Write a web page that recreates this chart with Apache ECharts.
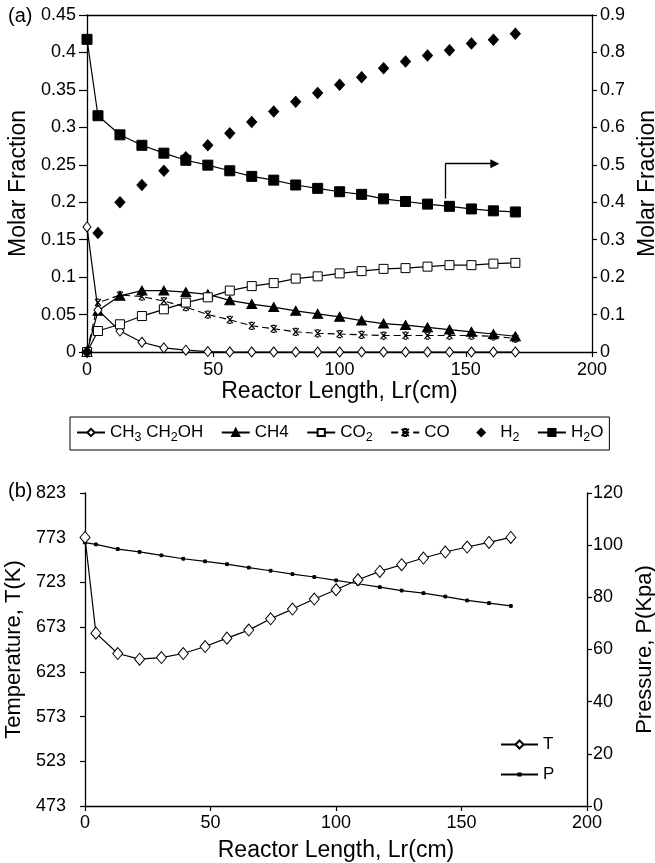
<!DOCTYPE html>
<html>
<head>
<meta charset="utf-8">
<script src="https://cdn.jsdelivr.net/npm/echarts@6/dist/echarts.min.js"></script>
<style>html,body{margin:0;padding:0;background:#fff}#c{width:655px;height:863px}</style>
</head>
<body>
<div id="c"></div>
<script>
// ---------- data ----------
var xPos = [0, 4.35, 13.05, 21.75, 30.45, 39.15, 47.85, 56.55, 65.25, 73.95, 82.65, 91.35, 100.05, 108.75, 117.45, 126.15, 134.85, 143.55, 152.25, 160.95, 169.65];
var ethanol = [0.167, 0.056, 0.028, 0.013, 0.0055, 0.0024, 0.0006, 0, 0, 0, 0, 0, 0, 0, 0, 0, 0, 0, 0, 0, 0];
var ch4 = [0, 0.055, 0.075, 0.082, 0.082, 0.080, 0.077, 0.069, 0.064, 0.060, 0.055, 0.051, 0.047, 0.042, 0.038, 0.036, 0.033, 0.030, 0.027, 0.024, 0.021];
var co2 = [0, 0.028, 0.037, 0.048, 0.057, 0.066, 0.073, 0.082, 0.088, 0.092, 0.098, 0.101, 0.105, 0.108, 0.111, 0.112, 0.114, 0.116, 0.116, 0.118, 0.119];
var co = [0, 0.066, 0.076, 0.074, 0.068, 0.060, 0.050, 0.043, 0.035, 0.031, 0.027, 0.025, 0.024, 0.023, 0.022, 0.022, 0.022, 0.022, 0.022, 0.021, 0.018];
var h2 = [0, 0.159, 0.200, 0.223, 0.242, 0.260, 0.276, 0.292, 0.307, 0.321, 0.334, 0.346, 0.357, 0.367, 0.379, 0.388, 0.396, 0.403, 0.412, 0.417, 0.425];
var h2o = [0.835, 0.631, 0.580, 0.552, 0.531, 0.512, 0.499, 0.484, 0.469, 0.459, 0.446, 0.437, 0.428, 0.421, 0.409, 0.402, 0.395, 0.389, 0.382, 0.377, 0.374]; // right axis
var temperature = [773.3, 666.3, 643.5, 637.2, 639.0, 643.5, 651.3, 660.7, 669.7, 682.3, 693.2, 704.4, 714.8, 726.0, 735.3, 742.8, 750.3, 757.0, 762.6, 767.7, 773.3];
var pressure = [101.0, 100.3, 98.5, 97.4, 96.1, 94.8, 93.8, 92.7, 91.4, 90.2, 88.9, 87.8, 86.5, 85.2, 83.9, 82.6, 81.6, 80.3, 78.8, 77.8, 76.7];

var leftTickLabels = ['0', '0.05', '0.1', '0.15', '0.2', '0.25', '0.3', '0.35', '0.4', '0.45'];
var rightTickLabels = ['0', '0.1', '0.2', '0.3', '0.4', '0.5', '0.6', '0.7', '0.8', '0.9'];
var tempTicks = [473, 523, 573, 623, 673, 723, 773, 823];
var arrowPts = [[141.9, 0.205], [141.9, 0.2515], [161.5, 0.2515]];

// ---------- build ----------
function zip(xs, ys) { return xs.map(function (x, i) { return [x, ys[i]]; }); }
var FF = '"Liberation Sans", Arial, sans-serif';
var black = '#000';
var axLine = { show: true, onZero: false, lineStyle: { color: black, width: 1.3 } };
function tick(len) { return { show: true, length: len, lineStyle: { color: black, width: 1.2 } }; }
var lbl = { color: black, fontSize: 18, fontFamily: FF };
var nameStyle = { color: black, fontSize: 23, fontFamily: FF };
var nameStyleB = { color: black, fontSize: 22, fontFamily: FF };

var chart = echarts.init(document.getElementById('c'), null, { renderer: 'canvas' });

var openStyle = { color: '#fff', borderColor: black, borderWidth: 1, opacity: 1 };
var fillStyle = { color: black, borderColor: black, borderWidth: 1, opacity: 1 };
var lineSt = { color: black, width: 1.2 };
var coSymbol = 'path://M0,0L10,10M10,0L0,10M2.5,0L7.5,0M2.5,10L7.5,10';
var dotSymbol = 'path://M0,0M10,10M3.6,3.6H6.4V6.4H3.6Z';

var legendNames = {
  'CH3CH2OH': '{n|CH}{s|3}{n| CH}{s|2}{n|OH}',
  'CH4': '{n|CH4}',
  'CO2': '{n|CO}{s|2}',
  'CO': '{n|CO}',
  'H2': '{n|H}{s|2}',
  'H2O': '{n|H}{s|2}{n|O}',
  'T': '{n|T}',
  'P': '{n|P}'
};
var rich = {
  n: { fontSize: 17, fontFamily: FF, color: black },
  s: { fontSize: 12.5, fontFamily: FF, color: black, padding: [10, 0, 0, 0] }
};

var option = {
  animation: false,
  backgroundColor: '#fff',
  title: [
    { text: '(a)', left: 8, top: 6, padding: 0, textStyle: { fontSize: 20, fontWeight: 'normal', color: black, fontFamily: FF } },
    { text: '(b)', left: 8, top: 481, padding: 0, textStyle: { fontSize: 20, fontWeight: 'normal', color: black, fontFamily: FF } }
  ],
  grid: [
    { left: 87, right: 63, top: 15, bottom: 511, containLabel: false, outerBoundsMode: 'none' },
    { left: 85, right: 68, top: 493, bottom: 57, containLabel: false, outerBoundsMode: 'none' }
  ],
  legend: [
    {
      data: ['CH3CH2OH', 'CH4', 'CO2', 'CO', 'H2', 'H2O'],
      left: 70, top: 417, orient: 'horizontal',
      borderColor: black, borderWidth: 1, padding: [7, 6, 6, 6],
      itemWidth: 28, itemHeight: 9, itemGap: 17.5,
      formatter: function (n) { return legendNames[n]; },
      textStyle: { fontSize: 17, fontFamily: FF, color: black, rich: rich }
    },
    {
      data: ['T', 'P'],
      left: 495, top: 731, orient: 'vertical',
      itemWidth: 37, itemHeight: 10, itemGap: 13,
      formatter: function (n) { return legendNames[n]; },
      textStyle: { fontSize: 17, fontFamily: FF, color: black, rich: rich }
    }
  ],
  xAxis: [
    { gridIndex: 0, type: 'value', min: 0, max: 200, interval: 50, axisLine: axLine, axisTick: tick(5),
      axisLabel: Object.assign({ margin: 9 }, lbl), splitLine: { show: false },
      name: 'Reactor Length, Lr(cm)', nameLocation: 'middle', nameGap: 28, nameTextStyle: nameStyle },
    { gridIndex: 0, type: 'value', min: 0, max: 200, position: 'top', axisLine: axLine,
      axisTick: { show: false }, axisLabel: { show: false }, splitLine: { show: false } },
    { gridIndex: 1, type: 'value', min: 0, max: 200, interval: 50, axisLine: axLine, axisTick: tick(5),
      axisLabel: Object.assign({ margin: 8 }, lbl), splitLine: { show: false },
      name: 'Reactor Length, Lr(cm)', nameLocation: 'middle', nameGap: 33, nameTextStyle: nameStyle }
  ],
  yAxis: [
    { gridIndex: 0, type: 'value', min: 0, max: 0.45, interval: 0.05, position: 'left', axisLine: axLine, axisTick: tick(8),
      axisLabel: Object.assign({ margin: 11, formatter: function (v, i) { return leftTickLabels[i]; } }, lbl),
      splitLine: { show: false }, name: 'Molar Fraction', nameLocation: 'middle', nameGap: 54, nameTextStyle: nameStyle },
    { gridIndex: 0, type: 'value', min: 0, max: 0.9, interval: 0.1, position: 'right', axisLine: axLine, axisTick: tick(5),
      axisLabel: Object.assign({ margin: 8, formatter: function (v, i) { return rightTickLabels[i]; } }, lbl),
      splitLine: { show: false }, name: 'Molar Fraction', nameLocation: 'middle', nameGap: 32, nameTextStyle: nameStyle },
    { gridIndex: 1, type: 'value', min: tempTicks[0], max: tempTicks[tempTicks.length - 1], position: 'left', axisLine: axLine,
      axisTick: Object.assign({ customValues: tempTicks }, tick(5)),
      axisLabel: Object.assign({ margin: 19, customValues: tempTicks }, lbl),
      splitLine: { show: false }, name: 'Temperature, T(K)', nameLocation: 'middle', nameGap: 50, nameTextStyle: nameStyleB },
    { gridIndex: 1, type: 'value', min: 0, max: 120, interval: 20, position: 'right', axisLine: axLine, axisTick: tick(5),
      axisLabel: Object.assign({ margin: 6 }, lbl),
      splitLine: { show: false }, name: 'Pressure, P(Kpa)', nameLocation: 'middle', nameGap: 38, nameTextStyle: nameStyleB }
  ],
  series: [
    { name: 'CH3CH2OH', type: 'line', xAxisIndex: 0, yAxisIndex: 0, data: zip(xPos, ethanol),
      symbol: 'diamond', symbolSize: [8, 10], itemStyle: openStyle, lineStyle: lineSt, z: 3,
      markLine: { silent: true, symbol: ['none', 'none'], label: { show: false },
        lineStyle: { color: black, type: 'solid', width: 1.3 },
        data: [
          [{ coord: arrowPts[0] }, { coord: arrowPts[1] }],
          [{ coord: arrowPts[1] }, { coord: arrowPts[2], symbol: 'triangle', symbolSize: [9, 9] }]
        ] } },
    { name: 'CH4', type: 'line', xAxisIndex: 0, yAxisIndex: 0, data: zip(xPos, ch4),
      symbol: 'triangle', symbolSize: [10, 9], itemStyle: fillStyle, lineStyle: lineSt, z: 2 },
    { name: 'CO2', type: 'line', xAxisIndex: 0, yAxisIndex: 0, data: zip(xPos, co2),
      symbol: 'rect', symbolSize: 9, itemStyle: openStyle, lineStyle: lineSt, z: 4 },
    { name: 'CO', type: 'line', xAxisIndex: 0, yAxisIndex: 0, data: zip(xPos, co),
      symbol: coSymbol, symbolSize: [6, 7], itemStyle: { color: black, borderColor: black, borderWidth: 1.2 },
      lineStyle: { color: black, width: 1.1, type: [7, 4] }, z: 3 },
    { name: 'H2', type: 'line', xAxisIndex: 0, yAxisIndex: 0, data: zip(xPos, h2),
      symbol: 'diamond', symbolSize: [10, 11], itemStyle: fillStyle,
      lineStyle: { color: 'rgba(0,0,0,0)', width: 0, opacity: 0 }, z: 5 },
    { name: 'H2O', type: 'line', xAxisIndex: 0, yAxisIndex: 1, data: zip(xPos, h2o),
      symbol: 'rect', symbolSize: 10, itemStyle: fillStyle, lineStyle: lineSt, z: 5 },
    { name: 'T', type: 'line', xAxisIndex: 2, yAxisIndex: 2, data: zip(xPos, temperature),
      symbol: 'diamond', symbolSize: [10, 12], itemStyle: openStyle, lineStyle: lineSt, z: 4 },
    { name: 'P', type: 'line', xAxisIndex: 2, yAxisIndex: 3, data: zip(xPos, pressure),
      symbol: dotSymbol, symbolSize: 10, itemStyle: fillStyle, lineStyle: lineSt, z: 3 }
  ]
};
chart.setOption(option);
</script>
</body>
</html>
